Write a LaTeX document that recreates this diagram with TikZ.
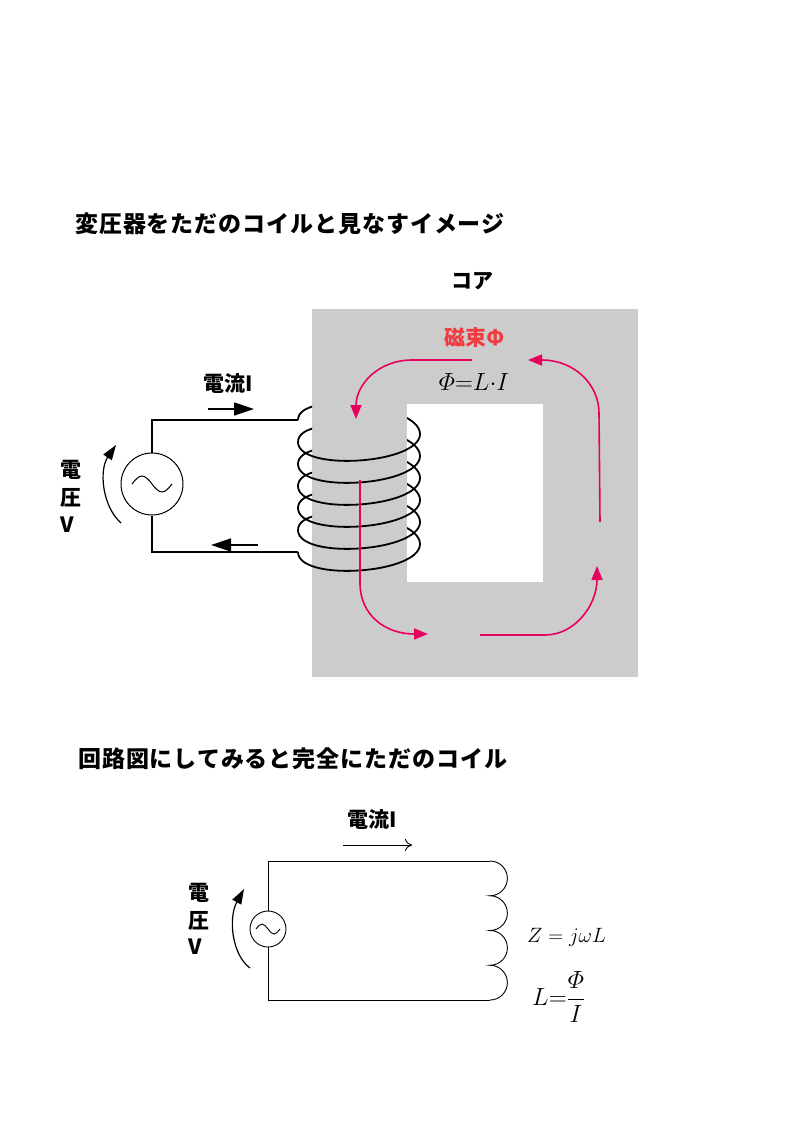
\documentclass[tikz,border=0pt]{standalone}
\usepackage{amsmath}
\usepackage{fontspec}
\usetikzlibrary{arrows.meta}
\newfontfamily\jp{Noto Sans CJK JP}
\newfontfamily\jpt{Noto Sans CJK JP}[LetterSpace=4]
\definecolor{coregray}{RGB}{204,204,204}
\definecolor{fluxc}{RGB}{232,0,96}
\definecolor{labred}{RGB}{240,60,64}
\tikzset{
  jplabel/.style={font=\jp\bfseries\fontsize{21}{24}\selectfont, inner sep=0pt},
  jptitle/.style={font=\jpt\bfseries\fontsize{23}{26}\selectfont, inner sep=0pt, anchor=west},
  mathlabel/.style={font=\fontsize{25}{28}\selectfont, inner sep=0pt},
  wire/.style={line width=1.4pt},
  thinwire/.style={line width=0.9pt},
  coilwire/.style={line width=1.8pt},
  flux/.style={draw=fluxc, line width=1.6pt, -{Triangle[length=14pt,width=11pt]}},
  curarrow/.style={line width=1.5pt, -{Triangle[length=20pt,width=13pt]}},
  voltarrow/.style={line width=1.2pt, -{Triangle[length=15pt,width=10pt]}},
}
\begin{document}
\begin{tikzpicture}[x=1pt,y=-1pt]
\useasboundingbox (0,0) rectangle (794,1123);

% ---------- titles ----------
\node[jptitle] (title1) at (75,224) {変圧器をただのコイルと見なすイメージ};
\node[jplabel] (corelab) at (472,281) {コア};

% ---------- core ----------
\fill[coregray] (312,309) rectangle (638,677);
\fill[white] (407,404) rectangle (543,582);

% ---------- coil: back halves (visible only outside the gray leg) ----------
\begin{scope}
  \clip (0,0) rectangle (312,1123) (407,404) rectangle (543,582);
  \foreach \i in {0,...,5}{
    \pgfmathsetmacro{\L}{420+22*\i}
    \pgfmathsetmacro{\R}{\L+14}
    \draw[coilwire] (298,\L) .. controls (298,\L-30) and (420,\R-30) .. (420,\R);
  }
\end{scope}
% front halves
\foreach \i in {0,...,5}{
  \pgfmathsetmacro{\R}{434+22*\i}
  \pgfmathsetmacro{\Ln}{442+22*\i}
  \draw[coilwire] (420,\R) .. controls (420,\R+30) and (298,\Ln+30) .. (298,\Ln);
}
\coordinate (coilin) at (298,420);
\coordinate (coilout) at (298,552);

% ---------- source and wires (top) ----------
\node[circle, draw, line width=1pt, minimum size=62pt, inner sep=0pt] (src) at (152,484) {};
\draw[line width=1pt] (132,484) sin (142,476) cos (152,484) sin (162,492) cos (172,484);
\draw[wire] (coilin) -| (src.north);
\draw[wire] (coilout) -| (src.south);

% current arrows
\coordinate (ia1) at (208,409); \coordinate (ia2) at (254,409);
\draw[curarrow] (ia1) -- (ia2);
\coordinate (ib1) at (258,545); \coordinate (ib2) at (211,545);
\draw[curarrow] (ib1) -- (ib2);
\node[jplabel] (cur1) at (228,384) {電流I};

% voltage
\coordinate (va1) at (121,523); \coordinate (va2) at (116,445);
\draw[voltarrow] (va1) .. controls (102,506) and (99,470) .. (va2);
\node[jplabel, anchor=west] (v1a) at (60,470) {電};
\node[jplabel, anchor=west] (v1b) at (60,498) {圧};
\node[jplabel, anchor=west] (v1c) at (60,525) {V};

% ---------- flux ----------
\node[jplabel, text=labred] (fluxlab) at (475,338) {磁束Φ};
\node[mathlabel] (fluxeq) at (474,382) {$\varPhi{=}L{\cdot}I$};
\coordinate (f1a) at (472,360); \coordinate (f1b) at (356,419);
\draw[flux] (f1a) -- (412,360) .. controls (378,360) and (356,385) .. (f1b);
\coordinate (f2a) at (360,480); \coordinate (f2b) at (428,634);
\draw[flux] (f2a) -- (360,583) .. controls (360,615) and (385,634) .. (f2b);
\coordinate (f3a) at (480,635); \coordinate (f3b) at (597,566);
\draw[flux] (f3a) -- (545,635) .. controls (575,635) and (597,605) .. (f3b);
\coordinate (f4a) at (600,522); \coordinate (f4b) at (528,360);
\draw[flux] (f4a) -- (599,413) .. controls (599,385) and (575,360) .. (f4b);

% ---------- bottom: circuit ----------
\node[jptitle] (title2) at (78,759) {回路図にしてみると完全にただのコイル};
\node[jplabel] (cur2) at (372,820) {電流I};
\coordinate (ic1) at (343,845); \coordinate (ic2) at (412,845);
\draw[thinwire, -{To[length=7pt,width=12pt]}] (ic1) -- (ic2);

\node[circle, draw, thinwire, minimum size=36pt, inner sep=0pt] (src2) at (268,929) {};
\draw[thinwire] (256,929) sin (262,924) cos (268,929) sin (274,934) cos (280,929);
\coordinate (tl) at (268,861);
\coordinate (bl) at (268,1000);
\coordinate (indtop) at (490,861);
\coordinate (indbot) at (490,1000);
\draw[thinwire] (indtop) -- (tl) -- (src2.north);
\draw[thinwire] (src2.south) -- (bl) -- (indbot);
\draw[thinwire] (indtop)
  arc[start angle=-90, end angle=90, radius=17.375]
  arc[start angle=-90, end angle=90, radius=17.375]
  arc[start angle=-90, end angle=90, radius=17.375]
  arc[start angle=-90, end angle=90, radius=17.375];

\coordinate (vb1) at (250,968); \coordinate (vb2) at (244,889);
\draw[voltarrow] (vb1) .. controls (232,955) and (228,918) .. (vb2);
\node[jplabel, anchor=west] (v2a) at (188,893) {電};
\node[jplabel, anchor=west] (v2b) at (188,921) {圧};
\node[jplabel, anchor=west] (v2c) at (188,947) {V};

\node[mathlabel, font=\fontsize{22}{26}\selectfont, anchor=west] (zeq) at (527,937) {$Z = j\omega L$};
\node[mathlabel, anchor=west] (leq) at (532,997) {$L{=}\dfrac{\varPhi}{I}$};
\end{tikzpicture}
\end{document}
